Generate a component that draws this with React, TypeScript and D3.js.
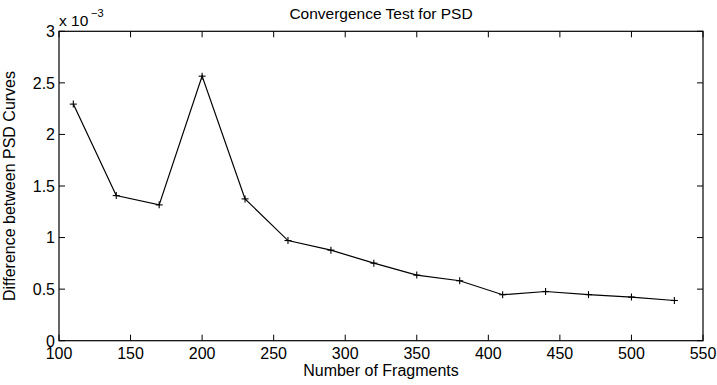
import React from "react";
import * as d3 from "d3";

const fragments = [110, 140, 170, 200, 230, 260, 290, 320, 350, 380, 410, 440, 470, 500, 530];
const differences = [2.294, 1.407, 1.317, 2.565, 1.375, 0.971, 0.878, 0.752, 0.636, 0.581, 0.446, 0.477, 0.447, 0.423, 0.39];
const xTicks = [100, 150, 200, 250, 300, 350, 400, 450, 500, 550];
const yTicks = [0, 0.5, 1, 1.5, 2, 2.5, 3];
const yTickLabels = ["0", "0.5", "1", "1.5", "2", "2.5", "3"];

const W = 717;
const H = 385;
const M = { left: 59, right: 703, top: 31.3, bottom: 340.7 };
const FONT = "'Liberation Sans', Arial, Helvetica, sans-serif";

export default function App() {
  const x = d3.scaleLinear().domain([100, 550]).range([M.left, M.right]);
  const y = d3.scaleLinear().domain([0, 3]).range([M.bottom, M.top]);
  const line = d3
    .line<number>()
    .x((_, i) => x(fragments[i]))
    .y((d) => y(d));
  const tl = 6;
  const ms = 3.5;
  return (
    <svg
      width={W}
      height={H}
      style={{ position: "absolute", left: 0, top: 0, background: "#fff" }}
      fontFamily={FONT}
    >
      <rect x={0} y={0} width={W} height={H} fill="#fff" />
      {/* ticks */}
      <g stroke="#000" strokeWidth={1}>
        {xTicks.map((t) => (
          <g key={"xt" + t}>
            <line x1={x(t)} x2={x(t)} y1={M.bottom} y2={M.bottom - tl} />
            <line x1={x(t)} x2={x(t)} y1={M.top} y2={M.top + tl} />
          </g>
        ))}
        {yTicks.map((t) => (
          <g key={"yt" + t}>
            <line x1={M.left} x2={M.left + tl} y1={y(t)} y2={y(t)} />
            <line x1={M.right} x2={M.right - tl} y1={y(t)} y2={y(t)} />
          </g>
        ))}
      </g>
      <rect
        x={M.left}
        y={M.top}
        width={M.right - M.left}
        height={M.bottom - M.top}
        fill="none"
        stroke="#000"
        strokeWidth={1.2}
      />
      {/* tick labels */}
      <g fontSize={16} fill="#000">
        {xTicks.map((t) => (
          <text key={"xl" + t} x={x(t)} y={359} textAnchor="middle">
            {t}
          </text>
        ))}
        {yTicks.map((t, i) => (
          <text key={"yl" + t} x={55} y={y(t) + 5.8} textAnchor="end">
            {yTickLabels[i]}
          </text>
        ))}
      </g>
      {/* exponent */}
      <text x={59} y={26} fontSize={15.5} fill="#000">
        x 10
      </text>
      <text x={91} y={16.5} fontSize={11} fill="#000">
        −3
      </text>
      {/* data line */}
      <path d={line(differences) || ""} fill="none" stroke="#000" strokeWidth={1.2} />
      <g stroke="#000" strokeWidth={1.1}>
        {differences.map((d, i) => (
          <g key={"m" + i}>
            <line x1={x(fragments[i]) - ms} x2={x(fragments[i]) + ms} y1={y(d)} y2={y(d)} />
            <line x1={x(fragments[i])} x2={x(fragments[i])} y1={y(d) - ms} y2={y(d) + ms} />
          </g>
        ))}
      </g>
      {/* titles */}
      <text x={381} y={19} fontSize={15.5} textAnchor="middle" fill="#000">
        Convergence Test for PSD
      </text>
      <text x={381} y={376} fontSize={16} textAnchor="middle" fill="#000">
        Number of Fragments
      </text>
      <text
        transform={`translate(14.6, ${(M.top + M.bottom) / 2}) rotate(-90)`}
        fontSize={16}
        textAnchor="middle"
        fill="#000"
      >
        Difference between PSD Curves
      </text>
    </svg>
  );
}
